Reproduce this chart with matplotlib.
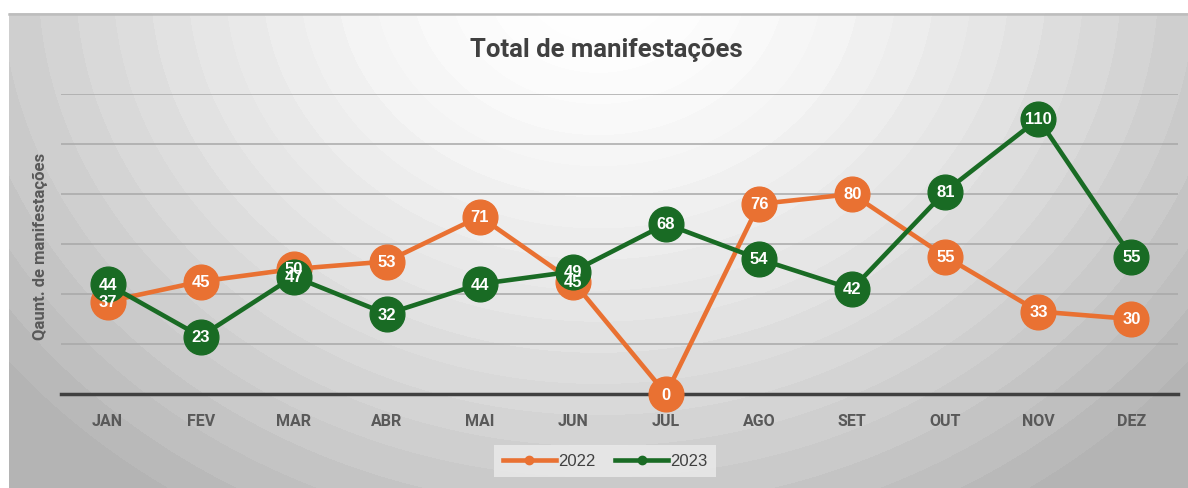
import numpy as np
import matplotlib
matplotlib.use("Agg")
import matplotlib.pyplot as plt
from matplotlib.lines import Line2D

# data
meses = ["JAN", "FEV", "MAR", "ABR", "MAI", "JUN", "JUL", "AGO", "SET", "OUT", "NOV", "DEZ"]
v2022 = [37, 45, 50, 53, 71, 45, 0, 76, 80, 55, 33, 30]
v2023 = [44, 23, 47, 32, 44, 49, 68, 54, 42, 81, 110, 55]

COR_2022 = "#E97132"
COR_2023 = "#196B24"
W, H = 1188, 489

fig = plt.figure(figsize=(W / 100, H / 100), dpi=100)
fig.patch.set_facecolor("white")

# fundo com gradiente radial em faixas
bg = fig.add_axes([9 / W, 0, 1 - 9 / W, (H - 14) / H])
bg.set_axis_off()
xx, yy = np.meshgrid(np.arange(9, W), np.arange(14, H))
dist = np.hypot((xx - 598) / 1.2, yy + 20) / 560.0
dist = np.floor(dist * 18) / 18
shade = 1 - 0.25 * np.clip(dist, 0, 1.1) ** 1.6
bg.imshow(np.dstack([shade] * 3), aspect="auto", extent=[0, 1, 0, 1], origin="upper")
bg.set_xlim(0, 1)
bg.set_ylim(0, 1)
fig.add_artist(Line2D([9 / W, 1], [1 - 14.5 / H] * 2, color="#bdbdbd", lw=1.8))

# eixo principal
ax = fig.add_axes([61 / W, 1 - 395 / H, (1178 - 61) / W, 300 / H])
ax.patch.set_alpha(0)
x = np.arange(len(meses))
ax.set_xlim(-0.5, len(meses) - 0.5)
ax.set_ylim(0, 120)
ax.set_yticks(np.arange(0, 121, 20))
ax.yaxis.grid(True, color="#a8a8a8", lw=1.1)
ax.set_axisbelow(True)
for s in ["top", "right", "left"]:
    ax.spines[s].set_visible(False)
ax.spines["bottom"].set_color("#404040")
ax.spines["bottom"].set_linewidth(2.5)
ax.tick_params(axis="y", left=False, labelleft=False)
ax.tick_params(axis="x", length=0, pad=14)
ax.set_xticks(x)
ax.set_xticklabels(meses, fontsize=11.5, fontweight="bold", color="#595959",
                   family="Roboto")

ax.plot(x, v2022, color=COR_2022, lw=3.3, marker="o", ms=25, zorder=3,
        clip_on=False, label="2022")
ax.plot(x, v2023, color=COR_2023, lw=3.3, marker="o", ms=25, zorder=4,
        clip_on=False, label="2023")

for xi, v in zip(x, v2022):
    ax.text(xi, v, str(v), ha="center", va="center", color="white",
            fontsize=12, fontweight="bold", zorder=5, family="Liberation Sans")
for xi, v in zip(x, v2023):
    ax.text(xi, v, str(v), ha="center", va="center", color="white",
            fontsize=12, fontweight="bold", zorder=6, family="Liberation Sans")

fig.text(606 / W, 1 - 50 / H, "Total de manifestações", ha="center", va="center",
         fontsize=18.5, fontweight="bold", color="#404040", family="Roboto")
fig.text(40 / W, 1 - 246 / H, "Qaunt. de manifestações", ha="center", va="center",
         rotation=90, fontsize=12, fontweight="bold", color="#595959", family="Roboto")

h = [Line2D([], [], color=COR_2022, lw=3.3, marker="o", ms=6),
     Line2D([], [], color=COR_2023, lw=3.3, marker="o", ms=6)]
leg = fig.legend(h, ["2022", "2023"], loc="center", bbox_to_anchor=(605 / W, 1 - 462 / H),
                 ncol=2, frameon=True, handlelength=3.2,
                 handletextpad=0.1, columnspacing=1.2, borderpad=0.5,
                 prop={"family": "Liberation Sans", "size": 12})
leg.get_frame().set_facecolor("#ebebeb")
leg.get_frame().set_edgecolor("none")
leg.get_frame().set_alpha(0.8)
leg.get_frame().set_boxstyle("square", pad=0)
for t in leg.get_texts():
    t.set_color("#404040")

fig.savefig("out.png", dpi=100)
